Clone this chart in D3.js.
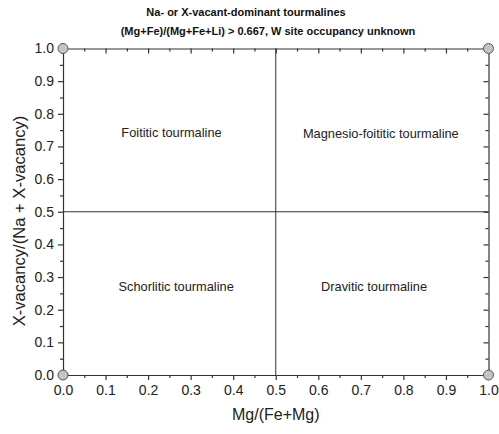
<!DOCTYPE html>
<html><head><meta charset="utf-8">
<script src="https://cdn.jsdelivr.net/npm/d3@7/dist/d3.min.js"></script>
<style>body{margin:0;background:#fff}svg{display:block}text{font-family:Arial,"Liberation Sans",sans-serif}</style>
</head><body>
<svg id="c" width="499" height="434"></svg>
<script>
const titleLines = ["Na- or X-vacant-dominant tourmalines", "(Mg+Fe)/(Mg+Fe+Li) > 0.667, W site occupancy unknown"];
const xTitle = "Mg/(Fe+Mg)";
const yTitle = "X-vacancy/(Na + X-vacancy)";
const majorTicks = [0,0.1,0.2,0.3,0.4,0.5,0.6,0.7,0.8,0.9,1.0];
const minorTicks = [0.05,0.15,0.25,0.35,0.45,0.55,0.65,0.75,0.85,0.95];
const fieldNames = ["Foititic tourmaline","Magnesio-foititic tourmaline","Schorlitic tourmaline","Dravitic tourmaline"];
const fieldX = [0.255,0.747,0.266,0.731];
const fieldY = [0.743,0.74,0.27,0.272];
const dividerX = [0.5];
const dividerY = [0.5];
const cornerX = [0,1,0,1];
const cornerY = [1,1,0,0];

const svg = d3.select("#c");
const L=63, R=488.5, T=48.5, B=375;
const x = d3.scaleLinear().domain([0,1]).range([L,R]);
const y = d3.scaleLinear().domain([0,1]).range([B,T]);
const fmt = d3.format(".1f");
const col="#333";

svg.selectAll(".dx").data(dividerX).join("line").attr("x1",d=>x(d)).attr("x2",d=>x(d)).attr("y1",y(0)).attr("y2",y(1)).attr("stroke",col).attr("stroke-width",1);
svg.selectAll(".dy").data(dividerY).join("line").attr("y1",d=>y(d)).attr("y2",d=>y(d)).attr("x1",x(0)).attr("x2",x(1)).attr("stroke",col).attr("stroke-width",1);

function styleAxis(g){
  g.select(".domain").attr("stroke",col).attr("stroke-width",1.2);
  g.selectAll(".tick line").attr("stroke",col).attr("stroke-width",1.2);
  g.selectAll(".tick text").attr("fill","#222").style("font-size","14px").style("font-family","Arial, 'Liberation Sans', sans-serif");
}
const gb = svg.append("g").attr("transform",`translate(0,${B})`).call(d3.axisBottom(x).tickValues(majorTicks).tickFormat(fmt).tickSize(5).tickSizeOuter(0).tickPadding(5));
styleAxis(gb);
svg.append("g").attr("transform",`translate(0,${B})`).call(d3.axisBottom(x).tickValues(minorTicks).tickFormat("").tickSize(3).tickSizeOuter(0)).call(g=>{g.select(".domain").remove();styleAxis(g);});
const gl = svg.append("g").attr("transform",`translate(${L},0)`).call(d3.axisLeft(y).tickValues(majorTicks).tickFormat(fmt).tickSize(5).tickSizeOuter(0).tickPadding(4));
styleAxis(gl);
svg.append("g").attr("transform",`translate(${L},0)`).call(d3.axisLeft(y).tickValues(minorTicks).tickFormat("").tickSize(3).tickSizeOuter(0)).call(g=>{g.select(".domain").remove();styleAxis(g);});
const gt = svg.append("g").attr("transform",`translate(0,${T})`).call(d3.axisBottom(x).tickValues(majorTicks).tickFormat("").tickSize(5).tickSizeOuter(0));
styleAxis(gt);
svg.append("g").attr("transform",`translate(0,${T})`).call(d3.axisBottom(x).tickValues(minorTicks).tickFormat("").tickSize(3).tickSizeOuter(0)).call(g=>{g.select(".domain").remove();styleAxis(g);});
const gr = svg.append("g").attr("transform",`translate(${R},0)`).call(d3.axisLeft(y).tickValues(majorTicks).tickFormat("").tickSize(5).tickSizeOuter(0));
styleAxis(gr);
svg.append("g").attr("transform",`translate(${R},0)`).call(d3.axisLeft(y).tickValues(minorTicks).tickFormat("").tickSize(3).tickSizeOuter(0)).call(g=>{g.select(".domain").remove();styleAxis(g);});

svg.selectAll(".pt").data(cornerX.map((d,i)=>[d,cornerY[i]])).join("circle")
  .attr("cx",d=>x(d[0])).attr("cy",d=>y(d[1])).attr("r",5).attr("fill","#c4c4c4").attr("stroke","#555").attr("stroke-width",1);

svg.selectAll(".fl").data(fieldNames).join("text").attr("x",(d,i)=>x(fieldX[i])).attr("y",(d,i)=>y(fieldY[i])).attr("dy","0.35em")
  .attr("text-anchor","middle").style("font-size","12.8px").attr("fill","#222").text(d=>d);

svg.append("text").attr("x",246).attr("y",16).attr("text-anchor","middle").style("font-size","11px").style("font-weight","bold").attr("fill","#111").text(titleLines[0]);
svg.append("text").attr("x",268).attr("y",35).attr("text-anchor","middle").style("font-size","11px").style("font-weight","bold").attr("fill","#111").text(titleLines[1]);
svg.append("text").attr("x",(L+R)/2).attr("y",420).attr("text-anchor","middle").style("font-size","16px").attr("fill","#222").text(xTitle);
svg.append("text").attr("transform",`translate(25,221) rotate(-90)`).attr("text-anchor","middle").style("font-size","16.6px").attr("fill","#222").text(yTitle);
</script>
</body></html>
